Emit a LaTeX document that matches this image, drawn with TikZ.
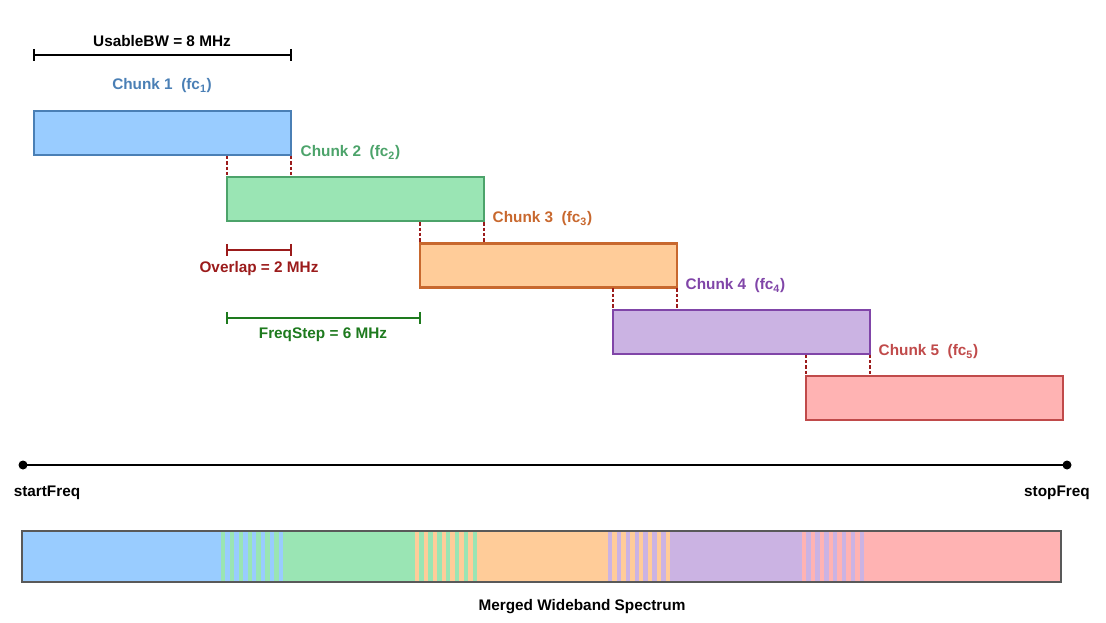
\documentclass[tikz,border=0pt]{standalone}
\usepackage{fontspec}
\setmainfont{Liberation Sans}
\begin{document}
\definecolor{bF}{HTML}{99CCFF}\definecolor{bD}{HTML}{4A7FB5}
\definecolor{gF}{HTML}{9AE5B4}\definecolor{gD}{HTML}{4CA36A}
\definecolor{oF}{HTML}{FFCC99}\definecolor{oD}{HTML}{C8682E}
\definecolor{pF}{HTML}{CBB3E3}\definecolor{pD}{HTML}{8045A8}
\definecolor{rF}{HTML}{FFB3B3}\definecolor{rD}{HTML}{C04A4A}
\definecolor{ovC}{HTML}{9B1B1B}\definecolor{fsC}{HTML}{1E7A1E}
\begin{tikzpicture}[x=0.75pt,y=-0.75pt,font=\bfseries\fontsize{11.5}{13}\selectfont,
 chunk/.style={draw=#1,line width=1.6pt},
 dim/.style={line width=1.3pt},
 ov/.style={ovC,line width=1.5pt,dash pattern=on 2.5pt off 1.5pt}]
\useasboundingbox (0,0) rectangle (1106,623);
% chunks
\foreach \i/\f/\d in {0/bF/bD,1/gF/gD,2/oF/oD,3/pF/pD,4/rF/rD}{
  \pgfmathsetmacro\xa{34+193*\i}\pgfmathsetmacro\ya{111+66.25*\i}
  \filldraw[fill=\f,chunk=\d] (\xa,\ya) rectangle ++(257,44);
}
\node[bD] (l1) at (162,86) {Chunk 1\ \ (fc$_{\mathbf 1}$)};
\node[gD,anchor=west] (l2) at (296,153) {Chunk 2\ \ (fc$_{\mathbf 2}$)};
\node[oD,anchor=west] (l3) at (488,219) {Chunk 3\ \ (fc$_{\mathbf 3}$)};
\node[pD,anchor=west] (l4) at (681,286) {Chunk 4\ \ (fc$_{\mathbf 4}$)};
\node[rD,anchor=west] (l5) at (874,352) {Chunk 5\ \ (fc$_{\mathbf 5}$)};
% overlap dotted lines
\foreach \i in {0,1,2,3}{
  \pgfmathsetmacro\xa{227+193*\i}\pgfmathsetmacro\xb{291+193*\i}
  \pgfmathsetmacro\ya{156+66.25*\i}\pgfmathsetmacro\yb{177+66.25*\i}
  \draw[ov] (\xa,\ya) -- (\xa,\yb); \draw[ov] (\xb,\ya) -- (\xb,\yb);
}
% dimensions
\draw[dim] (34,49) -- (34,61) (34,55) -- (291,55) (291,49) -- (291,61);
\node (ubw) at (162,41) {UsableBW = 8 MHz};
\draw[dim,ovC] (227,244) -- (227,256) (227,250) -- (291,250) (291,244) -- (291,256);
\node[ovC] (ovl) at (259,269) {Overlap = 2 MHz};
\draw[dim,fsC] (227,312) -- (227,324) (227,318) -- (420,318) (420,312) -- (420,324);
\node[fsC] (fsl) at (323,335) {FreqStep = 6 MHz};
% axis
\coordinate (s) at (23,465); \coordinate (e) at (1067,465);
\draw[line width=2pt] (s) -- (e);
\fill (s) circle (4.5) (e) circle (4.5);
\node (sf) at (47,493) {startFreq};
\node (ef) at (1057,493) {stopFreq};
% merged spectrum
\fill[bF] (22,531) rectangle (221,582);
\fill[gF] (283,531) rectangle (415,582);
\fill[oF] (477,531) rectangle (608,582);
\fill[pF] (670,531) rectangle (802,582);
\fill[rF] (864,531) rectangle (1061,582);
\foreach \x/\a/\b in {221/gF/bF,415/oF/gF,608/pF/oF,802/rF/pF}{
  \foreach \k in {0,...,13}{
    \pgfmathsetmacro\xs{\x+\k*62/14}
    \ifodd\k \fill[\b] (\xs,531) rectangle ++(62/14,51);
    \else \fill[\a] (\xs,531) rectangle ++(62/14,51); \fi
  }
}
\draw[line width=1.8pt,black!65] (22,531) rectangle (1061,582);
\node (mw) at (582,607) {Merged Wideband Spectrum};
\end{tikzpicture}
\end{document}
